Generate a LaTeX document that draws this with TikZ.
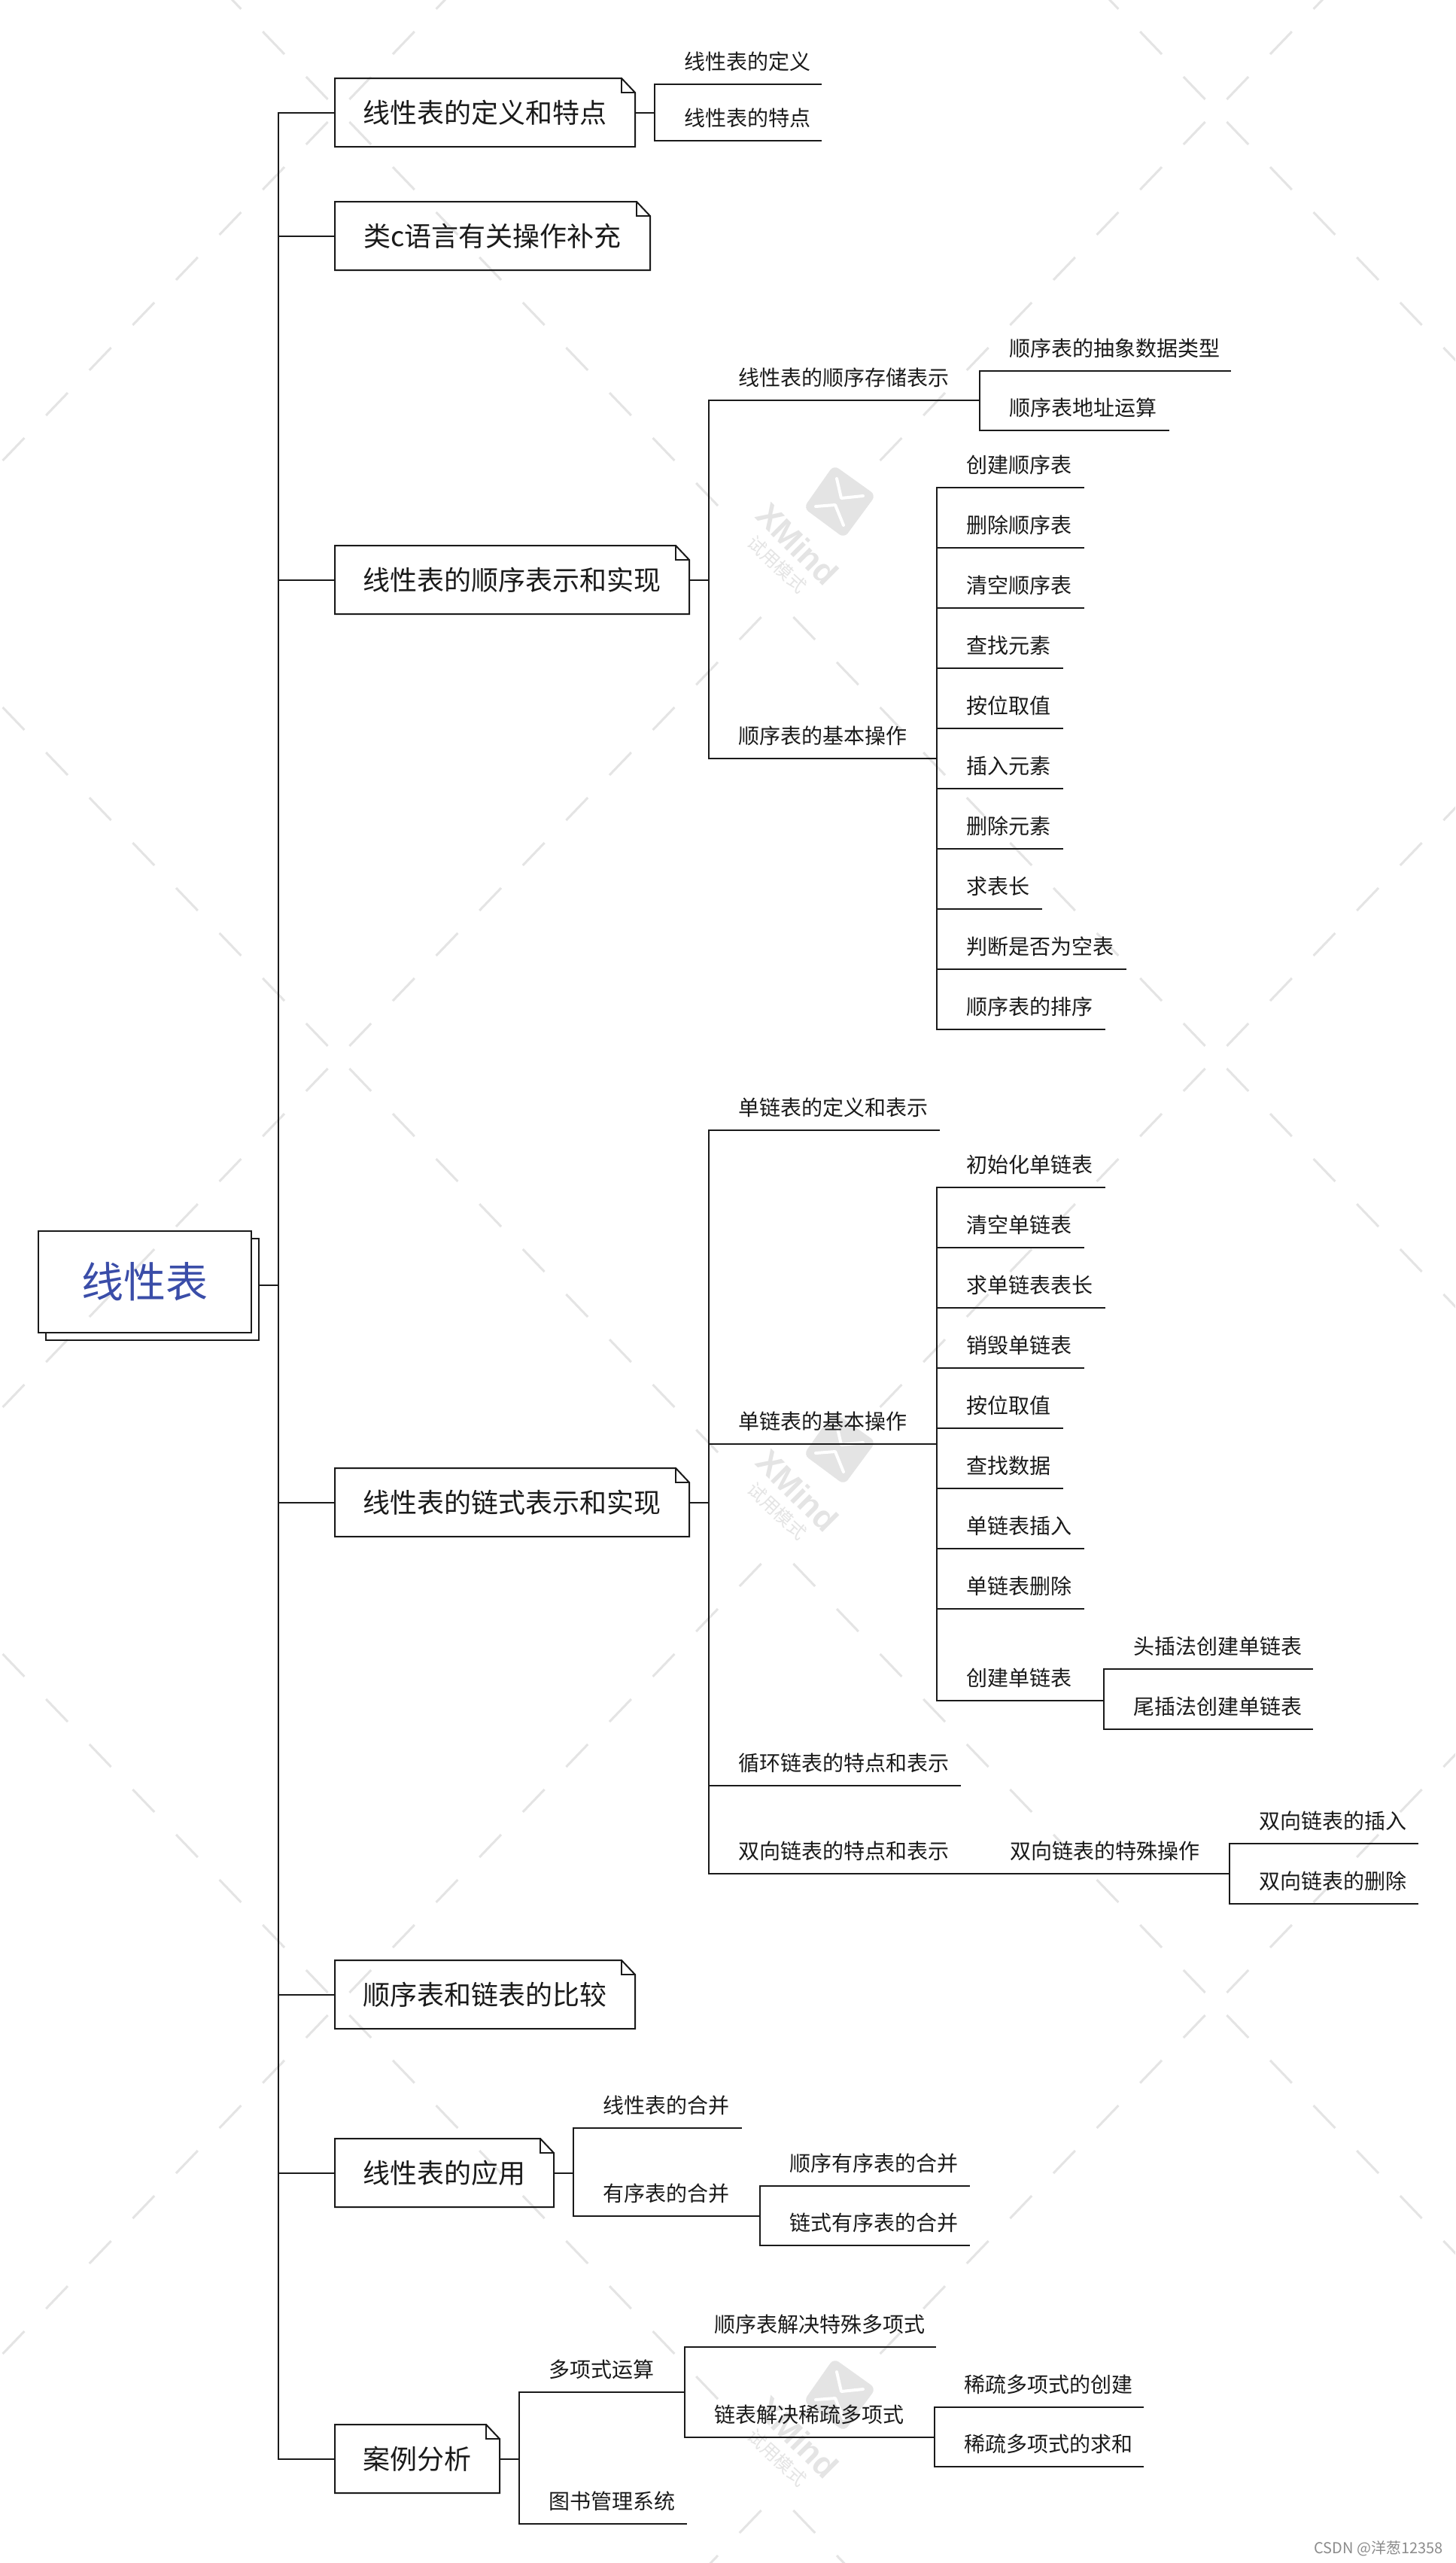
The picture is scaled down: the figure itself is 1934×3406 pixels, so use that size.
\documentclass[tikz,border=0pt]{standalone}
\usepackage{fontspec}
\setmainfont{Noto Sans CJK SC}
\newfontfamily\wmfont{Liberation Sans}
\usetikzlibrary{calc}
\definecolor{inkline}{HTML}{1A1A1A}
\definecolor{wmgrey}{HTML}{E4E4E4}
\definecolor{roottext}{HTML}{3A4DA8}
\tikzset{
  conn/.style={draw=inkline,line width=1pt,line cap=rect},
  wmdash/.style={draw=wmgrey,line width=1.5pt},
  leaflabel/.style={inner sep=0pt,outer sep=0pt,text=inkline,font=\fontsize{14pt}{16pt}\selectfont},
  topicbox/.style={inner sep=0pt,outer sep=0pt,minimum height=45.5pt,text=inkline,
    text height=15.84pt,text depth=2.16pt,font=\fontsize{18pt}{22pt}\selectfont},
  rootbox/.style={draw=inkline,line width=1pt,inner sep=0pt,outer sep=0pt,minimum width=141.5pt,minimum height=67.5pt,
    text=roottext,text height=24.64pt,text depth=3.36pt,font=\fontsize{28pt}{32pt}\selectfont},
}
\newcommand{\leafnode}[5]{%
  \coordinate (#1l) at (#2,#4);
  \coordinate (#1r) at (#3,#4);
  \draw[conn] (#1l) -- (#1r);
  \node[leaflabel,anchor=base west] (#1) at ({#2+39},{#4-19.4}) {#5};
}
\newcommand{\topicnote}[5]{%
  \node[topicbox,minimum width=#4*0.5pt,anchor=north west] (#1) at (#2,#3) {#5};
  \draw[conn] (#1.north west) -- ($(#1.north east)+(-18,0)$) -- ($(#1.north east)+(0,19)$) -- (#1.south east) -- (#1.south west) -- cycle;
  \draw[conn] ($(#1.north east)+(-18,0)$) -- ($(#1.north east)+(-18,19)$) -- ($(#1.north east)+(0,19)$);
}
\newcommand{\wmarm}[5]{%
  \foreach \j in {0,...,#5}{
    \draw[wmdash] ({#1+#3*0.96*(15+60*\j)},{#2+#4*(15+60*\j)}) -- ({#1+#3*0.96*(45+60*\j)},{#2+#4*(45+60*\j)});
  }
}
\begin{document}
\begin{tikzpicture}[x=0.5pt,y=-0.5pt]
\useasboundingbox (0,0) rectangle (1934,3406);
\fill[white] (0,0) rectangle (1934,3406);
% trial-mode watermark
\begin{scope}
\clip (0,0) rectangle (1934,3406);
\foreach \cy in {147,1405,2663,3921}{
  \wmarm{450}{\cy}{-1}{1}{8}
  \wmarm{450}{\cy}{-1}{-1}{8}
  \wmarm{450}{\cy}{1}{1}{8}
  \wmarm{450}{\cy}{1}{-1}{9}
  \wmarm{1616}{\cy}{-1}{1}{7}
  \wmarm{1616}{\cy}{-1}{-1}{9}
  \wmarm{1616}{\cy}{1}{1}{6}
  \wmarm{1616}{\cy}{1}{-1}{6}
}
\foreach \i/\dy in {1/0,2/1258,3/2516}{
  \begin{scope}[shift={(0,\dy)}]
    \fill[wmgrey,rounded corners=4pt] (1108,618) -- (1164,658) -- (1122,715) -- (1068,675) -- cycle;
    \draw[white,line width=2pt,line cap=round,line join=round] (1112,636) -- (1118,662) -- (1147,659);
    \draw[white,line width=2pt,line cap=round,line join=round] (1084,673) -- (1110,671) -- (1121,698);
    \node[rotate=-45,inner sep=0pt,text=wmgrey,font=\wmfont\bfseries\fontsize{22pt}{24pt}\selectfont] (wmname\i) at (1060,723) {XMind};
    \node[rotate=-43,inner sep=0pt,text=wmgrey,font=\fontsize{12pt}{14pt}\selectfont] (wmmode\i) at (1033,750) {试用模式};
  \end{scope}
}
\end{scope}
% trunk and root
\coordinate (trunktop) at (370,150);
\node[rootbox] (root) at (192.5,1703.5) {线性表};
\draw[conn] ($(root.north east)+(0,10)$) -- ($(root.north east)+(10,10)$) -- ($(root.south east)+(10,10)$) -- ($(root.south west)+(10,10)$) -- ($(root.south west)+(10,0)$);
\coordinate (rootout) at (344,1708);
\draw[conn] (rootout) -- (rootout -| trunktop);
% main topics
\topicnote{ta}{445}{104}{399}{线性表的定义和特点}
\topicnote{tb}{445}{268}{419}{类c语言有关操作补充}
\topicnote{tc}{445}{725}{471}{线性表的顺序表示和实现}
\topicnote{td}{445}{1951}{471}{线性表的链式表示和实现}
\topicnote{te}{445}{2605}{399}{顺序表和链表的比较}
\topicnote{tf}{445}{2842}{291}{线性表的应用}
\topicnote{tg}{445}{3222}{219}{案例分析}
\foreach \t in {ta,tb,tc,td,te,tf,tg}{
  \draw[conn] (\t.west) -- (\t.west -| trunktop);
}
\draw[conn] (ta.west -| trunktop) -- (tg.west -| trunktop);
% definition and characteristics
\leafnode{aa}{870}{1091}{112}{线性表的定义}
\leafnode{ab}{870}{1091}{187}{线性表的特点}
\draw[conn] (aal) -- (abl);
\draw[conn] (ta.east) -- (ta.east -| aal);
% sequential representation
\leafnode{ca}{942}{1276}{532}{线性表的顺序存储表示}
\leafnode{cb}{942}{1222}{1008}{顺序表的基本操作}
\draw[conn] (cal) -- (cbl);
\draw[conn] (tc.east) -- (tc.east -| cal);
\leafnode{caa}{1302}{1635}{493}{顺序表的抽象数据类型}
\leafnode{cab}{1302}{1553}{572}{顺序表地址运算}
\draw[conn] (caal) -- (cabl);
\draw[conn] (car) -- (car -| caal);
\leafnode{cba}{1245}{1440}{648}{创建顺序表}
\leafnode{cbb}{1245}{1440}{728}{删除顺序表}
\leafnode{cbc}{1245}{1440}{808}{清空顺序表}
\leafnode{cbd}{1245}{1412}{888}{查找元素}
\leafnode{cbe}{1245}{1412}{968}{按位取值}
\leafnode{cbf}{1245}{1412}{1048}{插入元素}
\leafnode{cbg}{1245}{1412}{1128}{删除元素}
\leafnode{cbh}{1245}{1384}{1208}{求表长}
\leafnode{cbi}{1245}{1496}{1288}{判断是否为空表}
\leafnode{cbj}{1245}{1468}{1368}{顺序表的排序}
\draw[conn] (cbal) -- (cbjl);
\draw[conn] (cbr) -- (cbr -| cbal);
% linked representation
\leafnode{da}{942}{1248}{1502}{单链表的定义和表示}
\leafnode{db}{942}{1222}{1919}{单链表的基本操作}
\leafnode{dc}{942}{1276}{2373}{循环链表的特点和表示}
\leafnode{dd}{942}{1276}{2490}{双向链表的特点和表示}
\draw[conn] (dal) -- (ddl);
\draw[conn] (td.east) -- (td.east -| dal);
\leafnode{dba}{1245}{1468}{1578}{初始化单链表}
\leafnode{dbb}{1245}{1440}{1658}{清空单链表}
\leafnode{dbc}{1245}{1468}{1738}{求单链表表长}
\leafnode{dbd}{1245}{1440}{1818}{销毁单链表}
\leafnode{dbe}{1245}{1412}{1898}{按位取值}
\leafnode{dbf}{1245}{1412}{1978}{查找数据}
\leafnode{dbg}{1245}{1440}{2058}{单链表插入}
\leafnode{dbh}{1245}{1440}{2138}{单链表删除}
\leafnode{dbi}{1245}{1441}{2260}{创建单链表}
\draw[conn] (dbal) -- (dbil);
\draw[conn] (dbr) -- (dbr -| dbal);
\leafnode{dbia}{1467}{1744}{2218}{头插法创建单链表}
\leafnode{dbib}{1467}{1744}{2298}{尾插法创建单链表}
\draw[conn] (dbial) -- (dbibl);
\draw[conn] (dbir) -- (dbir -| dbial);
\leafnode{dda}{1303}{1608}{2490}{双向链表的特殊操作}
\draw[conn] (ddr) -- (ddal);
\leafnode{ddaa}{1634}{1884}{2450}{双向链表的插入}
\leafnode{ddab}{1634}{1884}{2530}{双向链表的删除}
\draw[conn] (ddaal) -- (ddabl);
\draw[conn] (ddar) -- (ddar -| ddaal);
% applications
\leafnode{fa}{762}{985}{2828}{线性表的合并}
\leafnode{fb}{762}{985}{2945}{有序表的合并}
\draw[conn] (fal) -- (fbl);
\draw[conn] (tf.east) -- (tf.east -| fal);
\leafnode{fba}{1010}{1288}{2905}{顺序有序表的合并}
\leafnode{fbb}{1010}{1288}{2984}{链式有序表的合并}
\draw[conn] (fbal) -- (fbbl);
\draw[conn] (fbr) -- (fbr -| fbal);
% case studies
\leafnode{ga}{690}{885}{3179}{多项式运算}
\leafnode{gb}{690}{912}{3354}{图书管理系统}
\draw[conn] (gal) -- (gbl);
\draw[conn] (tg.east) -- (tg.east -| gal);
\leafnode{gaa}{910}{1243}{3119}{顺序表解决特殊多项式}
\leafnode{gab}{910}{1215}{3239}{链表解决稀疏多项式}
\draw[conn] (gaal) -- (gabl);
\draw[conn] (gar) -- (gar -| gaal);
\leafnode{gaba}{1242}{1519}{3199}{稀疏多项式的创建}
\leafnode{gabb}{1242}{1519}{3278}{稀疏多项式的求和}
\draw[conn] (gabal) -- (gabbl);
\draw[conn] (gabr) -- (gabr -| gabal);
% credit
\node[inner sep=0pt,text=black!45,anchor=east,font=\fontsize{10pt}{12pt}\selectfont] (credit) at (1918,3387) {CSDN @洋葱12358};
\end{tikzpicture}
\end{document}
